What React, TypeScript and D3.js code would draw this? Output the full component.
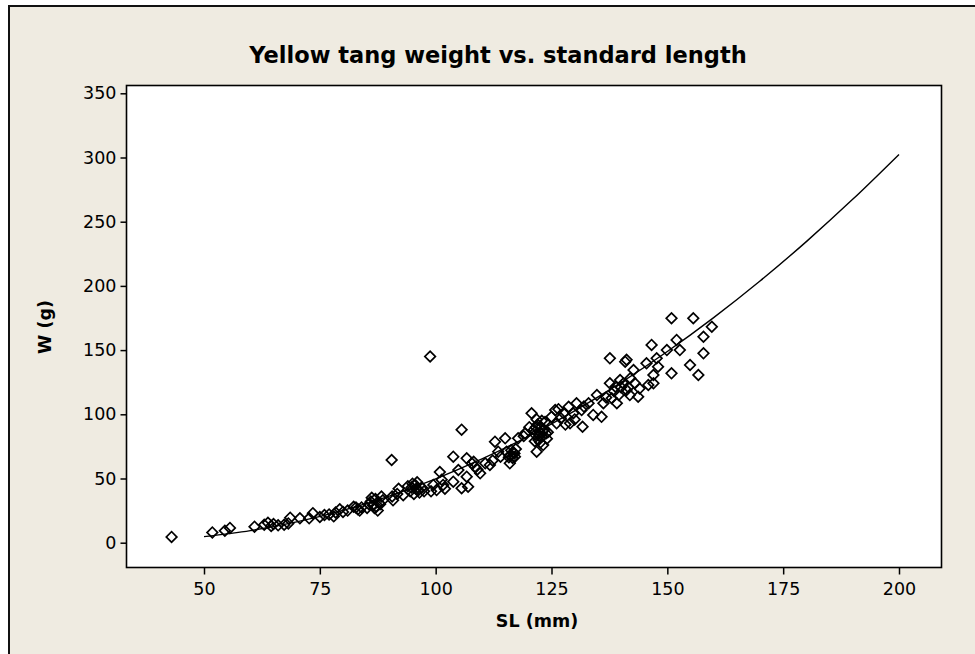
import { useEffect, useRef } from "react";
import * as d3 from "d3";

// axis ticks
const xTicks = [50, 75, 100, 125, 150, 175, 200];
const yTicks = [0, 50, 100, 150, 200, 250, 300, 350];

// fitted curve
const fitSL = [50, 60, 70, 80, 90, 100, 110, 120, 130, 140, 150, 160, 170, 180, 190, 200];
const fitW = [4.7, 9.4, 16.2, 25.2, 36.3, 49.7, 65.2, 82.9, 102.7, 124.7, 148.9, 175.3, 203.8, 234.5, 267.4, 302.4];

// observed fish: [SL (mm), W (g)]
const fish: [number, number][] = [
  [43, 4.5], [51.8, 8], [54.5, 9.3], [55.6, 11.5], [60.9, 12.5], [63, 14], [63.8, 15.5],
  [64.5, 13], [65, 14.5], [66, 13.5], [67.3, 14], [68.2, 15], [68.6, 19.5], [70.7, 19],
  [72.7, 19], [73.5, 23], [75, 20], [76, 21.5], [77, 22], [78, 20.5], [78.4, 23.5],
  [79.3, 26], [80, 24], [81, 25], [82.3, 28], [83.2, 26], [84, 27.5], [85.2, 27],
  [86, 32], [86.5, 29], [87, 34], [87.5, 25], [88, 30], [88.3, 36], [86.8, 27], [87.8, 31],
  [85.6, 30], [86.2, 35], [87.2, 28], [88.6, 33], [83.6, 25], [82.8, 27.5],
  [90.5, 64.4], [90.6, 36], [90.8, 33], [91.7, 38], [92, 42], [93, 37], [94, 44],
  [94.5, 40], [95, 46], [95.3, 38], [95.8, 42], [96, 47], [96.5, 39], [97, 43],
  [94.8, 43], [95.6, 45], [96.3, 41], [97.5, 40],
  [98.8, 145], [99, 40], [99.5, 45], [100.2, 41], [100.9, 55], [101.3, 49], [101.6, 45],
  [102, 42], [103.8, 67], [103.8, 47.5], [104.9, 56.6], [105.6, 88], [105.6, 42.4],
  [106.7, 65.7], [106.7, 51.4], [107, 43.6], [107.8, 61.8], [108.5, 59.2], [108.2, 63],
  [109, 57], [109.6, 54], [110.7, 61.8], [111.7, 60.5], [112.3, 64], [112.8, 78.7],
  [113.5, 70.9], [114, 67], [115, 81.3], [115.3, 70.9], [116, 68], [116.3, 72],
  [116.6, 66], [117, 69.5], [116, 61.8], [117.3, 73], [117.8, 81.3], [119, 83],
  [116.8, 70], [115.8, 66.5], [117.1, 67],
  [119.3, 85.2], [120.2, 90], [120.7, 100.8], [121.2, 88], [121.5, 84], [121.8, 70.9],
  [122, 92], [122.2, 80], [122.5, 86], [122.8, 90], [123, 83], [123.2, 76], [123.4, 88],
  [123.6, 94], [124, 81], [124.2, 86], [121.8, 96], [122.6, 78], [125, 98], [125.8, 103.3],
  [121.6, 90], [122.4, 83], [123.1, 87], [123.8, 85], [122.9, 95], [121.4, 79],
  [126.1, 93], [126.5, 104], [127, 97], [127.6, 100.8], [128, 92], [128.7, 105.9],
  [129, 93], [129.7, 100.8], [130, 96], [130.4, 108.6], [131.5, 103.3], [131.7, 90.3],
  [132, 106], [133, 108.6], [134, 99.5], [134.8, 115], [135.8, 98], [136.2, 108.6],
  [136.8, 113], [137.6, 143.6], [137.6, 124.1], [138, 112.5], [138.5, 118], [139.1, 108.6],
  [139.5, 115], [139.8, 126.7], [140, 121], [140.9, 141], [141.2, 142.5], [141.2, 118.9],
  [141.9, 115], [142, 128], [142.7, 134.5], [143, 124.1], [143.7, 113.7], [144, 120],
  [140.5, 124], [141.6, 121], [138.8, 121.5],
  [145.5, 139.7], [145.9, 122.8], [146.6, 154], [147, 130.6], [147, 124.1], [147.7, 143.6],
  [148, 137.1], [149.9, 150], [150.9, 174.8], [150.9, 131.9], [152, 157.9], [152.7, 150],
  [154.9, 138.4], [155.6, 174.8], [156.7, 130.6], [157.8, 160.4], [157.8, 147.5], [159.6, 168.2],
];

const font = "'DejaVu Sans', sans-serif";

const App = () => {
  const svgRef = useRef(null);
  const width = 975;
  const height = 654;
  const frame = { left: 126.5, right: 941.5, top: 85.5, bottom: 567.5 };

  useEffect(() => {
    const svg = d3.select(svgRef.current);
    svg.selectAll("*").remove();

    // beige figure background with its border
    svg.append("rect").attr("width", width).attr("height", height).attr("fill", "#fff");
    svg
      .append("rect")
      .attr("x", 9)
      .attr("y", 6)
      .attr("width", width + 10)
      .attr("height", height + 10)
      .attr("fill", "#efebe1")
      .attr("stroke", "#111")
      .attr("stroke-width", 2);

    const x = d3.scaleLinear().domain([50, 200]).range([204, 899]);
    const y = d3.scaleLinear().domain([0, 350]).range([542.7, 93.3]);

    // plot area
    svg
      .append("rect")
      .attr("x", frame.left)
      .attr("y", frame.top)
      .attr("width", frame.right - frame.left)
      .attr("height", frame.bottom - frame.top)
      .attr("fill", "#fff")
      .attr("stroke", "#000")
      .attr("stroke-width", 1.6);

    // axes
    const xAxis = d3.axisBottom(x).tickValues(xTicks).tickSize(7).tickSizeOuter(0).tickPadding(8);
    const yAxis = d3.axisLeft(y).tickValues(yTicks).tickSize(6).tickSizeOuter(0).tickPadding(4);

    const gx = svg.append("g").attr("transform", `translate(0, ${frame.bottom})`).call(xAxis);
    const gy = svg.append("g").attr("transform", `translate(${frame.left}, 0)`).call(yAxis);
    [gx, gy].forEach((g) => {
      g.select(".domain").remove();
      g.selectAll("line").attr("stroke", "#000").attr("stroke-width", 1.5);
      g.selectAll("text")
        .attr("fill", "#000")
        .style("font-family", font)
        .style("font-size", "17.5px");
    });

    // fitted curve
    const line = d3
      .line<number>()
      .x((d) => x(d))
      .y((d, i) => y(fitW[i]))
      .curve(d3.curveMonotoneX);
    svg
      .append("path")
      .datum(fitSL)
      .attr("d", line)
      .attr("fill", "none")
      .attr("stroke", "#000")
      .attr("stroke-width", 1.4);

    // points as open diamonds
    const diamond = d3.symbol(d3.symbolSquare, 56);
    svg
      .append("g")
      .selectAll("path")
      .data(fish)
      .enter()
      .append("path")
      .attr("d", diamond)
      .attr("transform", (d) => `translate(${x(d[0])}, ${y(d[1])}) rotate(45)`)
      .attr("fill", "none")
      .attr("stroke", "#000")
      .attr("stroke-width", 1.7);

    // titles
    svg
      .append("text")
      .attr("x", 498)
      .attr("y", 63)
      .attr("text-anchor", "middle")
      .style("font-family", font)
      .style("font-weight", "bold")
      .style("font-size", "22.5px")
      .text("Yellow tang weight vs. standard length");
    svg
      .append("text")
      .attr("x", 537)
      .attr("y", 627)
      .attr("text-anchor", "middle")
      .style("font-family", font)
      .style("font-weight", "bold")
      .style("font-size", "17.5px")
      .text("SL (mm)");
    svg
      .append("text")
      .attr("transform", `translate(51, 327) rotate(-90)`)
      .attr("text-anchor", "middle")
      .style("font-family", font)
      .style("font-weight", "bold")
      .style("font-size", "17.5px")
      .text("W (g)");
  }, []);

  return (
    <svg
      ref={svgRef}
      width={width}
      height={height}
      style={{ position: "absolute", left: 0, top: 0 }}
    />
  );
};

export default App;
